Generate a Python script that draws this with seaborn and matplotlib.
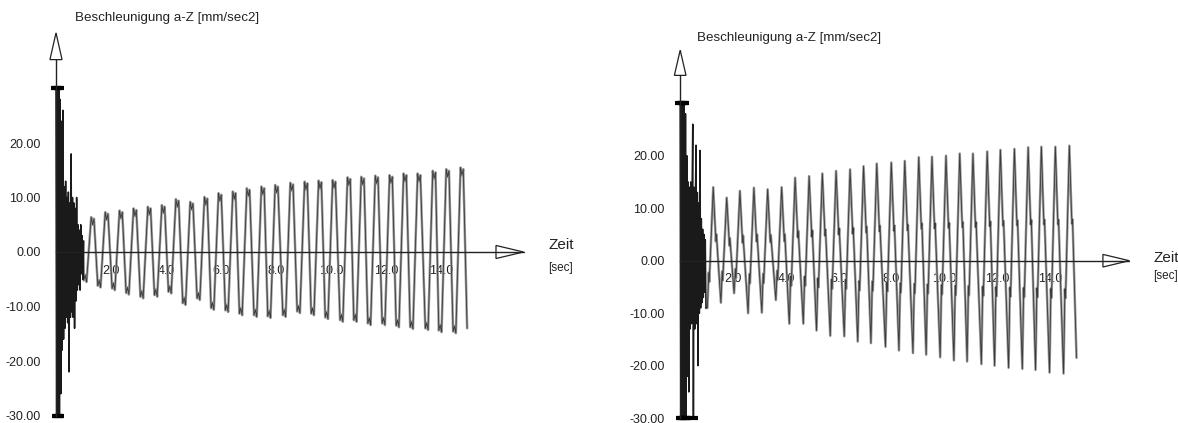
import matplotlib
matplotlib.use("Agg")
import matplotlib.pyplot as plt
from matplotlib.patches import Polygon
import pandas as pd
import seaborn as sns

# ---- data (time in s, acceleration in mm/sec2) ----
TRANSIENT_STEP = 0.025   # spacing of the start-up transient samples

left_transient = [30, -30, 30, -30, 30, -30, 28, -26, 24, -18, 26, -16, 12, -14,
                  13, -12, 10, -13, 11, -22, 9, -12, 18, -11, 10, -12, 9, -14,
                  8, -9, 10, -7, 5, -6, 4, -7, 5, -4, 3, -5, 2]
left_peak_t = [1.33, 1.84, 2.36, 2.87, 3.39, 3.90, 4.41, 4.93, 5.45, 5.96, 6.48,
               6.99, 7.52, 8.02, 8.57, 9.09, 9.60, 10.11, 10.65, 11.15, 11.66,
               12.18, 12.69, 13.20, 13.75, 14.24, 14.76]
left_peaks = [6.4, 7.3, 7.6, 8.0, 8.3, 8.6, 9.7, 9.2, 10.1, 10.8, 11.1, 11.7, 12.0,
              12.3, 12.7, 12.9, 13.1, 13.2, 13.7, 13.8, 14.0, 14.1, 14.4, 14.4,
              14.9, 15.2, 15.5]
left_troughs = [-5.5, -6.5, -7.0, -7.8, -8.5, -8.2, -7.6, -9.7, -8.8, -10.6, -11.0,
                -11.6, -11.9, -12.1, -11.9, -11.2, -11.6, -12.3, -12.8, -12.8,
                -13.4, -13.4, -13.8, -14.1, -14.3, -14.7, -14.9]
left_end = (14.95, -14.0)

right_transient = [30, -30, 30, -30, 30, -30, 30, -30, 28, -30, 20, -22, 15, -25,
                   14, -13, 15, -12, 13, 26, -30, 14, -13, 12, 22, -12, 13, -20,
                   11, -10, 21, -9, 8, -8, 6, -7, 5, -6, 4, -9]
right_peak_t = [1.25, 1.76, 2.26, 2.79, 3.31, 3.84, 4.35, 4.88, 5.38, 5.90, 6.43,
                6.94, 7.44, 7.99, 8.50, 9.03, 9.53, 10.06, 10.58, 11.08, 11.62,
                12.12, 12.65, 13.17, 13.67, 14.20, 14.73]
right_peaks = [14.0, 12.0, 13.3, 13.9, 13.6, 14.0, 15.8, 16.1, 16.6, 17.1, 17.4,
               18.0, 18.5, 18.7, 19.0, 19.7, 19.8, 20.0, 20.4, 20.4, 20.8, 21.1,
               21.3, 21.6, 21.7, 21.7, 21.9]
right_troughs = [-9.0, -8.0, -6.2, -10.0, -9.9, -7.5, -12.0, -12.0, -13.3, -14.3,
                 -14.4, -15.4, -15.7, -16.4, -17.1, -17.6, -17.9, -18.4, -19.0,
                 -19.2, -19.7, -20.0, -20.4, -20.6, -20.8, -21.3, -21.5]
right_end = (15.0, -18.5)

y_ticks = [-30, -20, -10, 0, 10, 20]
x_ticks = [2, 4, 6, 8, 10, 12, 14]
y_title = "Beschleunigung a-Z [mm/sec2]"
x_title = "Zeit"
x_unit = "[sec]"

W, H = 1178, 423
INK = "#222222"


def build_wave(transient, peak_t, peaks, troughs, end, kind):
    """Turn the read-off peaks/troughs into polylines (vertices only)."""
    t0 = [i * TRANSIENT_STEP for i in range(len(transient))]
    start = pd.DataFrame({"t": t0, "a": list(transient)})
    t, v = [t0[-1]], [transient[-1]]
    for tp, h, lo in zip(peak_t, peaks, troughs):
        if kind == "round":
            tt = tp - 0.27
            t += [tt - 0.05, tt, tt + 0.05, tp - 0.05, tp, tp + 0.05]
            v += [lo + 0.3, lo + 1.3, lo, h, h - 1.4, h - 0.3]
        else:
            tt = tp - 0.22
            t += [tt, tt + 0.05, tt + 0.07, tt + 0.09, tp,
                  tp + 0.08, tp + 0.10, tp + 0.12]
            v += [lo, 0.25 * lo, 0.25 * lo - 1.8, 0.2 * lo, h,
                  0.42 * h, 0.42 * h - 2.2, 0.36 * h]
    t.append(end[0])
    v.append(end[1])
    return start, pd.DataFrame({"t": t, "a": v})


def panel(fig, x0, x1, ox, oy, sx, sy):
    """Axes covering pixel columns x0..x1, zero at (ox, oy), sx px/s, sy px/unit."""
    ax = fig.add_axes([x0 / W, 0, (x1 - x0) / W, 1])
    ax.set_xlim((x0 - ox) / sx, (x1 - ox) / sx)
    ax.set_ylim(-(H - oy) / sy, oy / sy)
    return ax


def decorate(ax, pos, start, waves, tip):
    sns.lineplot(data=waves, x="t", y="a", ax=ax, color="#9a9a9a", lw=1.8,
                 sort=False, estimator=None, legend=False)
    sns.lineplot(data=waves, x="t", y="a", ax=ax, color="#3a3a3a", lw=0.6,
                 sort=False, estimator=None, legend=False)
    sns.lineplot(data=start, x="t", y="a", ax=ax, color="#1a1a1a", lw=1.1,
                 sort=False, estimator=None, legend=False)
    clipped = start[start["a"].abs() >= 30]
    ax.plot(clipped["t"], clipped["a"], ls="none", marker="_", ms=7, mew=3,
            color="black")

    for s in ("top", "right"):
        ax.spines[s].set_visible(False)
    ax.spines["left"].set_position(("data", 0))
    ax.spines["bottom"].set_position(("data", 0))
    ax.spines["left"].set_bounds(-30, 35.3)
    ax.spines["bottom"].set_bounds(0, 16.0)
    for s in ("left", "bottom"):
        ax.spines[s].set_linewidth(1.0)
        ax.spines[s].set_color(INK)

    ax.set_yticks(y_ticks)
    ax.set_yticklabels([f"{v:.2f}" for v in y_ticks])
    ax.set_xticks(x_ticks)
    ax.set_xticklabels([f"{v:.1f}" for v in x_ticks])
    ax.tick_params(axis="y", direction="out", length=8, width=1.2, pad=3.0,
                   labelsize=9, colors=INK)
    ax.tick_params(axis="x", direction="out", length=3, width=0.8, pad=6.0,
                   labelsize=9, colors=INK)
    ax.set_xlabel("")
    ax.set_ylabel("")

    # open arrow heads on both axes
    ax.plot([0, 0], [35.3, tip], color="#888888", lw=0.8)
    ax.add_patch(Polygon([(-0.22, 35.3), (0.22, 35.3), (0, tip)], closed=True,
                         facecolor="white", edgecolor=INK, lw=0.9, zorder=5))
    ax.add_patch(Polygon([(16.0, -1.2), (16.0, 1.2), (17.0, 0)], closed=True,
                         facecolor="white", edgecolor=INK, lw=0.9, zorder=5))
    ax.plot([16.0, 17.0], [0, 0], color=INK, lw=1.0, zorder=6)

    ax.text(pos["title"][0], pos["title"][1], y_title, fontsize=9.6,
            color=INK, va="center", ha="left")
    ax.text(17.9, pos["zeit"], x_title, fontsize=11, color=INK,
            va="center", ha="left")
    ax.text(17.9, -3.0, x_unit, fontsize=8.5, color=INK,
            va="center", ha="left")


sns.set_style("white")
plt.rcParams["font.family"] = ["Liberation Sans", "DejaVu Sans"]
plt.rcParams["axes.unicode_minus"] = False

fig = plt.figure(figsize=(W / 100, H / 100), dpi=100)

ax_l = panel(fig, 0, 585, 56, 252, 27.5, 5.45)
start_l, waves_l = build_wave(left_transient, left_peak_t, left_peaks,
                              left_troughs, left_end, "round")
decorate(ax_l, {"title": (0.69, 42.9), "zeit": 1.3}, start_l, waves_l, tip=40.2)

ax_r = panel(fig, 590, 1178, 680.2, 260.7, 26.42, 5.25)
start_r, waves_r = build_wave(right_transient, right_peak_t, right_peaks,
                              right_troughs, right_end, "spike")
decorate(ax_r, {"title": (0.63, 42.4), "zeit": 0.5}, start_r, waves_r, tip=40.1)

fig.savefig("out.png", dpi=100)
